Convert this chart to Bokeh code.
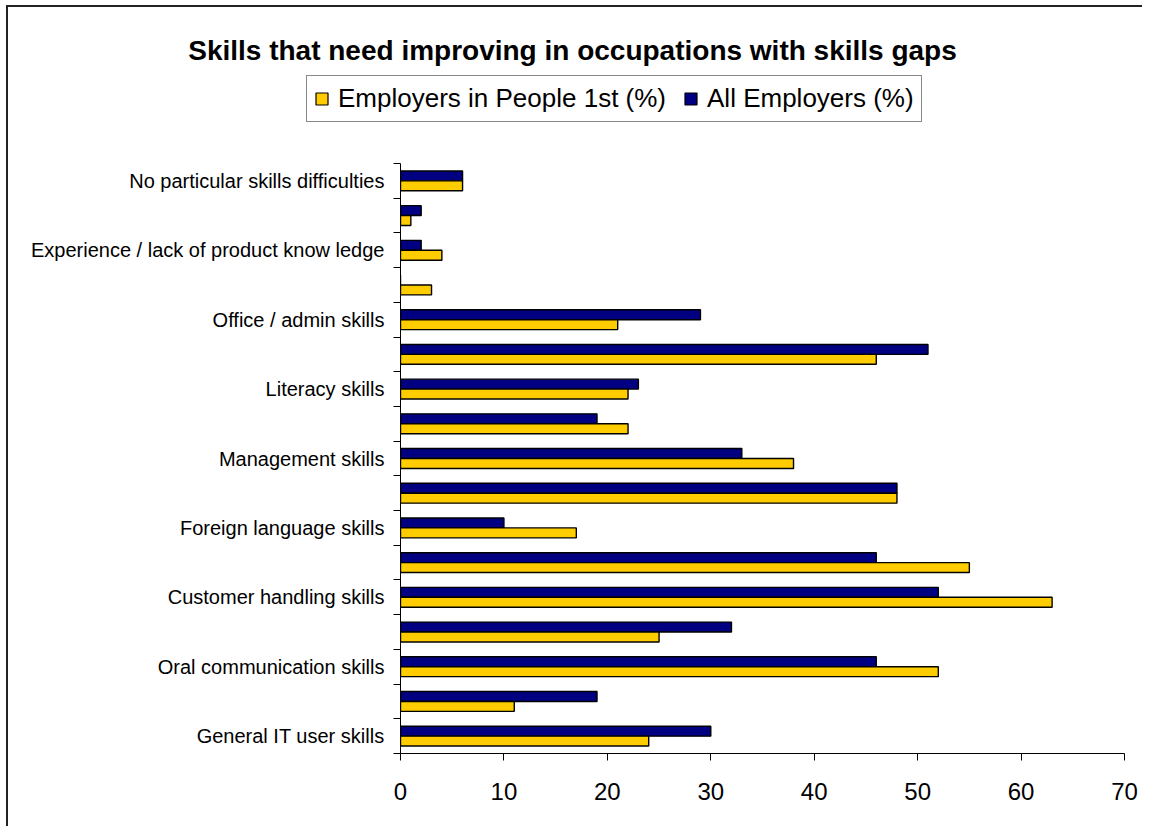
from bokeh.plotting import figure
from bokeh.models import (ColumnDataSource, FixedTicker, Range1d, Legend, LegendItem, Label)
from bokeh.embed import file_html
from bokeh.resources import INLINE

title_text = "Skills that need improving in occupations with skills gaps"
# categories listed top to bottom as drawn; empty strings = labels Excel skipped
categories = ["No particular skills difficulties", "", "Experience / lack of product know ledge", "",
              "Office / admin skills", "", "Literacy skills", "", "Management skills", "",
              "Foreign language skills", "", "Customer handling skills", "", "Oral communication skills",
              "", "General IT user skills"]
all_employers = [6, 2, 2, 0, 29, 51, 23, 19, 33, 48, 10, 46, 52, 32, 46, 19, 30]
people_1st = [6, 1, 4, 3, 21, 46, 22, 22, 38, 48, 17, 55, 63, 25, 52, 11, 24]
series_names = ["Employers in People 1st (%)", "All Employers (%)"]
x_ticks = [0, 10, 20, 30, 40, 50, 60, 70]

FONT = "Liberation Sans"
YELLOW = "#FFCC00"
NAVY = "#000080"
BORDER = "2px solid #222222"

W = 1136
TOP_H = 143
MAIN_H = 678

n = len(categories)
centers = [n - i - 0.5 for i in range(n)]
BAR_H = 0.286

src = ColumnDataSource(dict(
    y_all=[c + BAR_H / 2 for c in centers],
    y_p1=[c - BAR_H / 2 for c in centers],
    all_emp=all_employers,
    p1=people_1st,
))

# ---------- header (title + legend), a separate root so its frame is the whole canvas ----------
top = figure(width=W, height=TOP_H, output_backend="svg", toolbar_location=None,
             x_range=Range1d(0, W), y_range=Range1d(0, TOP_H),
             x_axis_location=None, y_axis_location=None,
             min_border_left=0, min_border_right=0, min_border_top=0, min_border_bottom=0)
top.styles = {"border-left": BORDER, "border-top": BORDER,
              "margin-left": "6px", "margin-top": "5px"}
top.outline_line_color = None
top.xgrid.visible = False
top.ygrid.visible = False

# legend proxies (hidden renderers sharing the data source)
d_p1 = top.hbar(y="y_p1", right="p1", left=0, height=BAR_H, source=src,
                fill_color=YELLOW, line_color="black", line_width=1.2, visible=False)
d_all = top.hbar(y="y_all", right="all_emp", left=0, height=BAR_H, source=src,
                 fill_color=NAVY, line_color="black", line_width=1.2, visible=False)

top.add_layout(Label(x=564, y=100, x_units="screen", y_units="screen", text=title_text,
                     text_font=FONT, text_font_size="28px", text_font_style="bold",
                     text_align="center", text_baseline="alphabetic", text_color="black"))

legend = Legend(items=[LegendItem(label=series_names[0], renderers=[d_p1]),
                       LegendItem(label=series_names[1], renderers=[d_all])],
                orientation="horizontal", location=(298, 28),
                label_text_font=FONT, label_text_font_size="26px", label_text_color="black",
                glyph_width=15, glyph_height=15, label_standoff=9, spacing=17,
                padding=7, margin=0, border_line_color="#111111", border_line_width=1.2,
                background_fill_color="white", background_fill_alpha=1.0,
                inactive_fill_alpha=0.0, label_height=24)
top.add_layout(legend, "center")

# ---------- main chart ----------
p = figure(width=W, height=MAIN_H, output_backend="svg", toolbar_location=None,
           x_range=Range1d(x_ticks[0], x_ticks[-1]), y_range=Range1d(0, n),
           min_border_left=392, min_border_right=20, min_border_top=15, min_border_bottom=73)
p.styles = {"border-left": BORDER, "margin-left": "6px"}
p.outline_line_color = None
p.xgrid.visible = False
p.ygrid.visible = False

r_all = p.hbar(y="y_all", right="all_emp", left=0, height=BAR_H, source=src,
               fill_color=NAVY, line_color="black", line_width=1.4)
r_p1 = p.hbar(y="y_p1", right="p1", left=0, height=BAR_H, source=src,
              fill_color=YELLOW, line_color="black", line_width=1.4)

xa = p.xaxis[0]
xa.ticker = FixedTicker(ticks=x_ticks)
xa.major_label_text_font = FONT
xa.major_label_text_font_size = "24px"
xa.major_label_text_color = "black"
xa.major_label_standoff = 22
xa.major_tick_out = 7
xa.major_tick_in = 0
xa.minor_tick_out = 0
xa.minor_tick_in = 0
xa.axis_line_color = "black"
xa.major_tick_line_color = "black"

ya = p.yaxis[0]
ya.ticker = FixedTicker(ticks=centers, minor_ticks=list(range(0, n + 1)))
ya.major_label_overrides = {c: lab for c, lab in zip(centers, categories)}
ya.major_label_text_font = FONT
ya.major_label_text_font_size = "20px"
ya.major_label_text_color = "black"
ya.major_label_standoff = 9
ya.major_tick_out = 0
ya.major_tick_in = 0
ya.minor_tick_out = 7
ya.minor_tick_in = 0
ya.minor_tick_line_color = "black"
ya.axis_line_color = "black"

open("out.html", "w").write(file_html([top, p], INLINE))
